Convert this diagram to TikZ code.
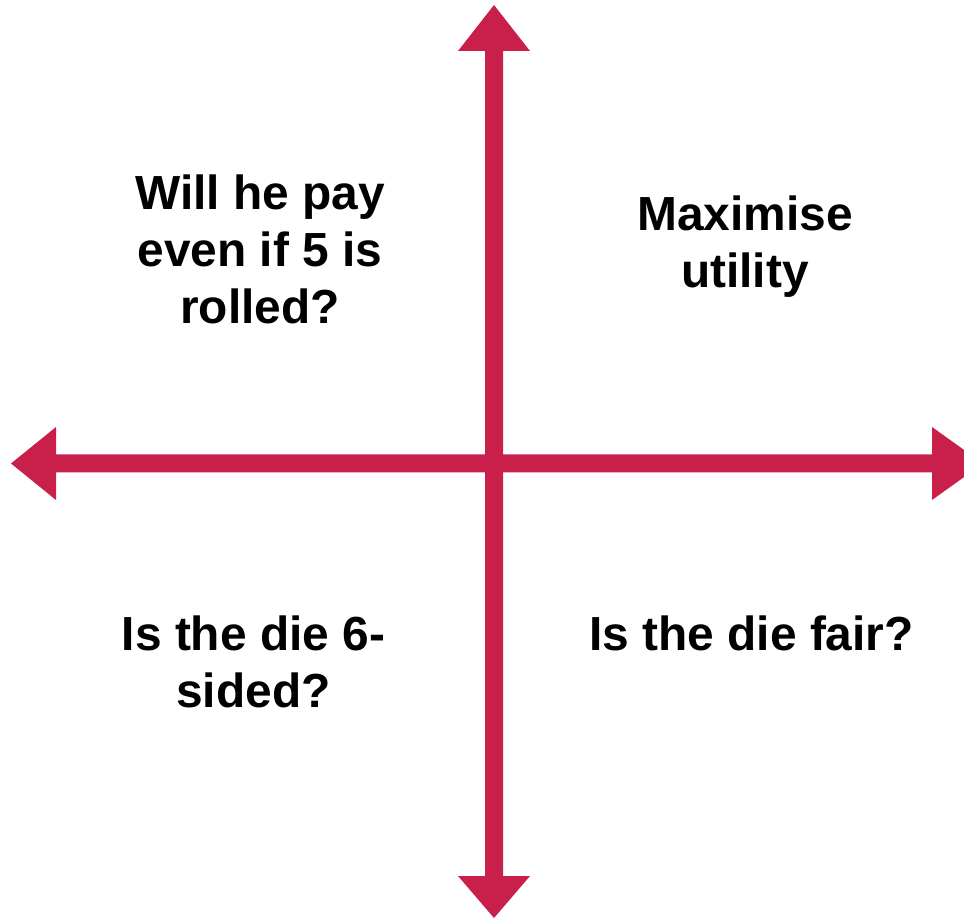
\documentclass[tikz,border=0pt]{standalone}
\usepackage{fontspec}
\setmainfont{Liberation Sans}
\definecolor{axisred}{HTML}{C8204A}
\begin{document}
\begin{tikzpicture}[x=0.75pt,y=-0.75pt,
  axis/.style={fill=axisred},
  label/.style={font=\fontsize{35.9pt}{42.75pt}\selectfont\bfseries, align=center, inner sep=0pt, anchor=base, text=black}]
\useasboundingbox (0,0) rectangle (964,919);
\clip (0,0) rectangle (964,919);
% vertical axis with two heads
\fill[axis] (494,5) -- (530,51) -- (503,51) -- (503,876) -- (530,876) -- (494,918)
  -- (458,876) -- (485,876) -- (485,51) -- (458,51) -- cycle;
% horizontal axis with two heads
\fill[axis] (11,463.5) -- (56,427) -- (56,454.5) -- (932,454.5) -- (932,427) -- (983,463.5)
  -- (932,500) -- (932,472.5) -- (56,472.5) -- (56,500) -- cycle;
\node[label] (tl) at (260,324) {Will he pay\\even if 5 is\\rolled?};
\node[label] (tr) at (745,288) {Maximise\\utility};
\node[label] (bl) at (253.5,707) {Is the die 6-\\sided?};
\node[label] (br) at (751.5,650) {Is the die fair?};
\end{tikzpicture}
\end{document}
